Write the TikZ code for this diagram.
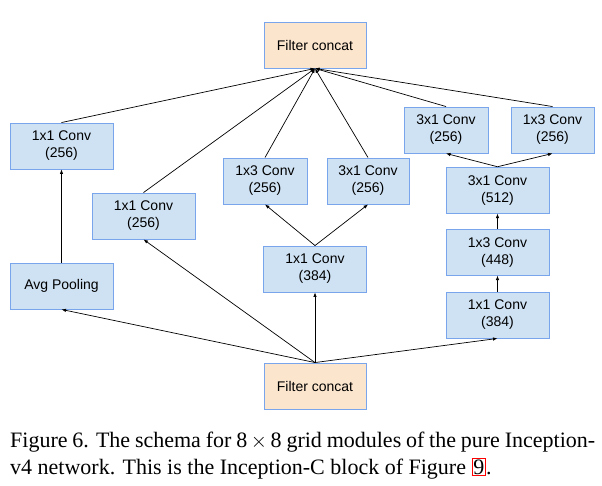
\documentclass[tikz,border=0pt]{standalone}
\usepackage{fontspec}
\setmainfont{Liberation Serif}
\newfontfamily\boxfont{Liberation Sans}
\usetikzlibrary{arrows.meta, positioning}
\definecolor{convfill}{RGB}{207,226,243}
\definecolor{concatfill}{RGB}{252,229,205}
\definecolor{boxline}{RGB}{120,165,235}
\begin{document}
\begin{tikzpicture}
% style
	[x=1pt, y=-1pt,
	conv/.style={rectangle, draw=boxline, fill=convfill, line width=0.9pt, inner sep=0pt, minimum width=103pt, minimum height=46pt, align=center, font=\boxfont\fontsize{14}{17}\selectfont},
	narrow/.style={conv, minimum width=84pt},
	concat/.style={conv, fill=concatfill, minimum width=102pt},
	arr/.style={-{Latex[length=4.5pt,width=3.5pt]}, line width=0.7pt},
	caption/.style={anchor=base west, inner sep=0pt, font=\fontsize{22}{27}\selectfont}]
	\useasboundingbox (0,0) rectangle (602,486);

	% concat layers
	\node [concat] (top) at (315,45) {Filter concat};
	\node [concat] (bottom) at (315,386) {Filter concat};

	% pooling branch
	\node [conv] (pool) at (61.5,286) {Avg Pooling};
	\node [conv] (poolconv) at (61.5,146) {1x1 Conv\\(256)};

	% 1x1 branch
	\node [conv] (conv) at (143.5,216) {1x1 Conv\\(256)};

	% split branch
	\node [conv] (splitbase) at (315,269) {1x1 Conv\\(384)};
	\node [narrow] (splitA) at (265,181) {1x3 Conv\\(256)};
	\node [narrow, minimum width=82pt] (splitB) at (368,181) {3x1 Conv\\(256)};

	% deep branch
	\node [conv] (deepA) at (497.5,315) {1x1 Conv\\(384)};
	\node [conv, node distance=16pt] (deepB) [above=of deepA] {1x3 Conv\\(448)};
	\node [conv, node distance=15pt] (deepC) [above=of deepB] {3x1 Conv\\(512)};
	\node [narrow] (deepD) at (446,130) {3x1 Conv\\(256)};
	\node [narrow, minimum width=83pt] (deepE) at (552.5,130) {1x3 Conv\\(256)};

	\path[arr] (bottom.north) edge (pool.south)
	           (bottom.north) edge (conv.south)
	           (bottom.north) edge (splitbase.south)
	           (bottom.north) edge (deepA.south)
	           (pool) edge (poolconv)
	           (splitbase.north) edge (splitA.south)
	           (splitbase.north) edge (splitB.south)
	           (deepA) edge (deepB)
	           (deepB) edge (deepC)
	           (deepC.north) edge (deepD.south)
	           (deepC.north) edge (deepE.south)
	           (poolconv.north) edge (top.south)
	           (conv.north) edge (top.south)
	           (splitA.north) edge (top.south)
	           (splitB.north) edge (top.south)
	           (deepD.north) edge (top.south)
	           (deepE.north) edge (top.south);

	% caption
	\node [caption] (cap1) at (10,447) {\makebox[585pt][s]{Figure 6. The schema for 8\,$\times$\,8 grid modules of the pure Inception-}};
	\node [caption] (cap2) at (10,474) {v4 network. This is the Inception-C block of Figure {\fboxsep=1pt\fboxrule=0.8pt\fcolorbox{red}{white}{9}}.};
\end{tikzpicture}
\end{document}
